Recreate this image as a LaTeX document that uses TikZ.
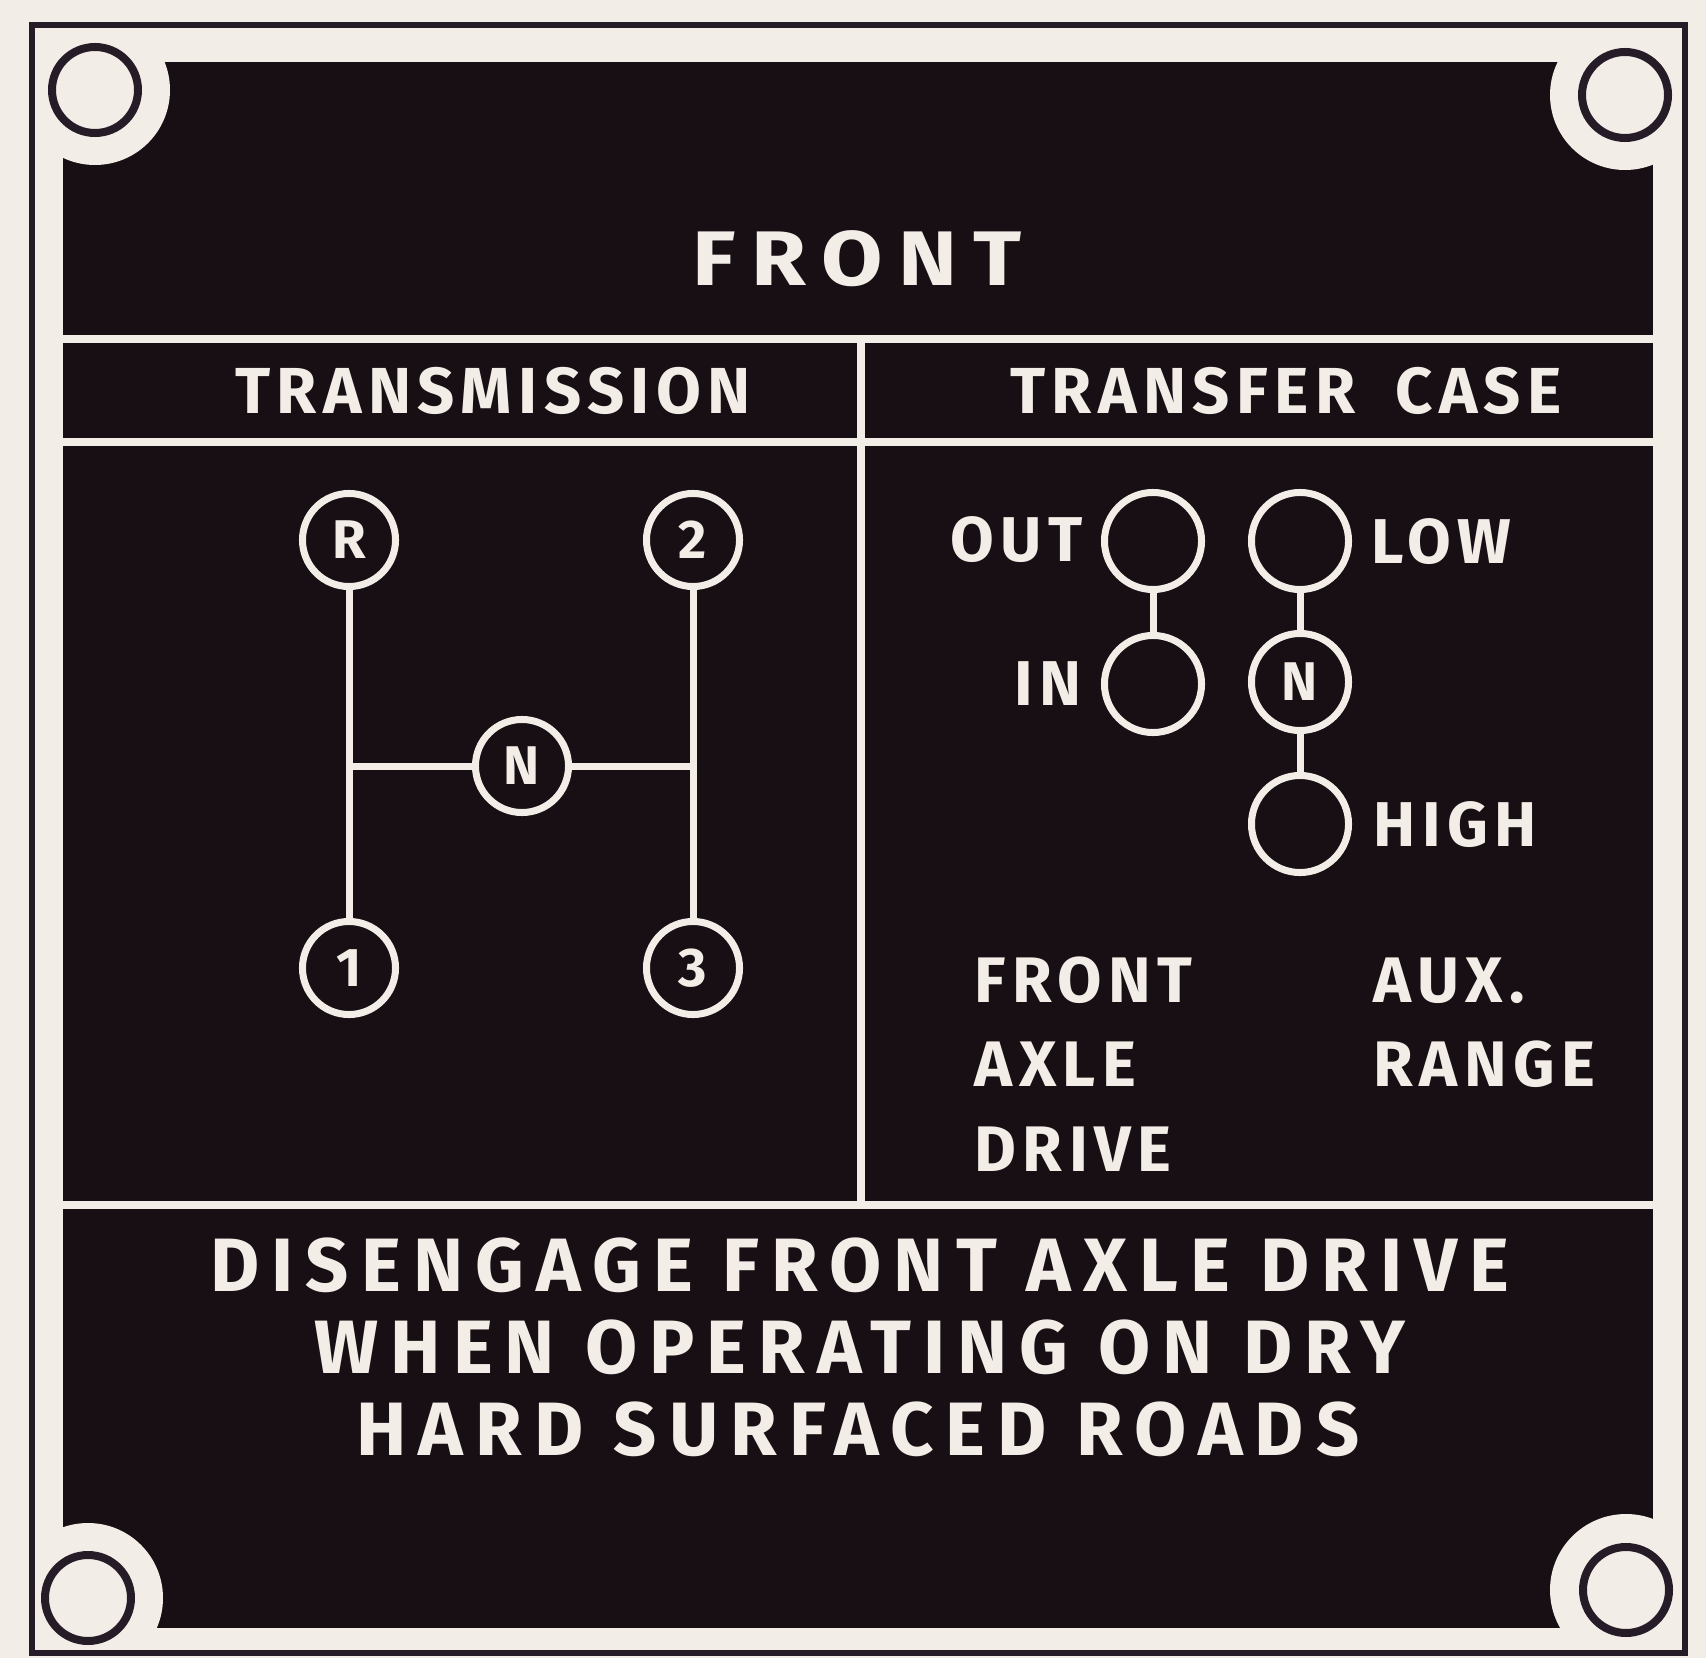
\documentclass[tikz,border=0pt]{standalone}
\usepackage{fontspec}
\usepackage{graphicx}
\setmainfont{Fira Sans}
\newfontfamily\platefont[LetterSpace=10]{Fira Sans}
\newfontfamily\widefont[LetterSpace=16]{Fira Sans}
\newfontfamily\titlefont[LetterSpace=18]{Fira Sans}
\definecolor{paper}{RGB}{243,237,231}
\definecolor{plate}{RGB}{24,15,20}
\definecolor{ink}{RGB}{38,28,40}
\newcommand{\fsz}[1]{\fontsize{#1}{#1}\selectfont}
\begin{document}
\begin{tikzpicture}[x=0.01cm, y=-0.01cm,
    lettering/.style={text=paper, font=\platefont\bfseries\fsz{#1}, inner sep=0pt},
    wide lettering/.style={text=paper, font=\widefont\bfseries\fsz{#1}, inner sep=0pt},
    gear/.style={circle, draw=paper, line width=0.07cm, minimum size=#1, inner sep=0pt,
                 text=paper, font=\platefont\bfseries\fsz{15.5}},
    link/.style={draw=paper, line width=0.07cm},
    groove/.style={draw=paper, line width=0.08cm},
    hole/.style={draw=ink, line width=0.08cm}]
    \useasboundingbox (0,0) rectangle (1706,1658);
    \fill[paper] (0,0) rectangle (1706,1658);

    % Plate with notched corners
    \fill[plate] (63,62) rectangle (1653,1628);
    \begin{scope}
        \clip (63,62) rectangle (1653,1628);
        \fill[paper] (95,90) circle (75);
        \fill[paper] (1625,95) circle (75);
        \fill[paper] (88,1598) circle (75);
        \fill[paper] (1626,1590) circle (76);
    \end{scope}

    % Frame and mounting holes
    \draw[ink, line width=0.06cm] (32,25) rectangle (1685,1653);
    \draw[hole] (95,90) circle (43);
    \draw[hole] (1625,95) circle (43);
    \draw[hole] (88,1598) circle (43);
    \draw[hole] (1626,1590) circle (43);

    % Panel grooves
    \draw[groove] (63,339) -- (1653,339);
    \draw[groove] (63,442) -- (1653,442);
    \draw[groove] (63,1205) -- (1653,1205);
    \draw[groove] (861,339) -- (861,1205);

    % Headings
    \node[text=paper, font=\titlefont\bfseries\fsz{22}, inner sep=0pt, anchor=base] (front) at (857,286) {\scalebox{1.15}[1]{FRONT}};
    \node[lettering=18.5, anchor=base] (transmission) at (493,414) {TRANSMISSION};
    \node[lettering=18.5, anchor=base] (transfer) at (1286,414) {TRANSFER\hspace{5pt} CASE};

    % Transmission shift pattern
    \node[gear=0.93cm] (gR) at (349,540) {R};
    \node[gear=0.93cm] (g2) at (693,540) {2};
    \node[gear=0.93cm] (gN) at (522,766) {N};
    \node[gear=0.93cm] (g1) at (349,968) {1};
    \node[gear=0.93cm] (g3) at (693,968) {3};
    \coordinate (hl) at (349,766);
    \coordinate (hr) at (693,766);
    \draw[link] (gR) -- (g1);
    \draw[link] (g2) -- (g3);
    \draw[link] (hl) -- (gN) -- (hr);

    % Transfer case levers
    \node[gear=0.97cm] (tOut) at (1153,541) {};
    \node[gear=0.97cm] (tIn) at (1153,684) {};
    \node[gear=0.97cm] (tLow) at (1300,541) {};
    \node[gear=0.97cm] (tN) at (1300,682) {N};
    \node[gear=0.97cm] (tHigh) at (1300,824) {};
    \draw[link] (tOut) -- (tIn);
    \draw[link] (tLow) -- (tN) -- (tHigh);
    \node[lettering=18, anchor=base east] (lOut) at (1083,561) {OUT};
    \node[lettering=18, anchor=base east] (lIn) at (1082,705) {IN};
    \node[lettering=18, anchor=base west] (lLow) at (1371,563) {LOW};
    \node[lettering=18, anchor=base west] (lHigh) at (1373,846) {HIGH};

    % Lever names
    \node[lettering=18.3, anchor=base west] (axle1) at (974,1002) {FRONT};
    \node[lettering=18.3, anchor=base west] (axle2) at (974,1086) {AXLE};
    \node[lettering=18.3, anchor=base west] (axle3) at (974,1171) {DRIVE};
    \node[lettering=18.3, anchor=base west] (aux1) at (1373,1002) {AUX.};
    \node[lettering=18.3, anchor=base west] (aux2) at (1373,1086) {RANGE};

    % Warning
    \node[wide lettering=21.5, anchor=base] (warn1) at (860,1291) {DISENGAGE FRONT AXLE DRIVE};
    \node[wide lettering=21.5, anchor=base] (warn2) at (860,1373) {WHEN OPERATING ON DRY};
    \node[wide lettering=21.5, anchor=base] (warn3) at (858,1455) {HARD SURFACED ROADS};
\end{tikzpicture}
\end{document}
